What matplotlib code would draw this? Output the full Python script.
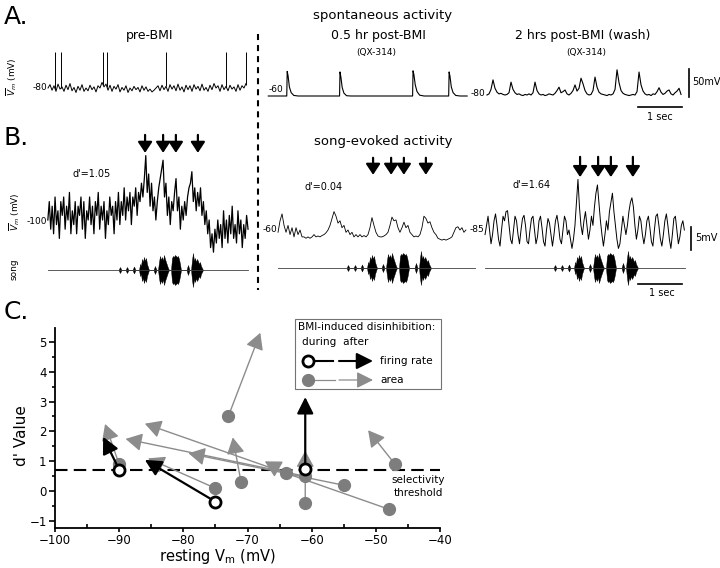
import numpy as np
import matplotlib
matplotlib.use("Agg")
import matplotlib.pyplot as plt
from matplotlib.patches import Rectangle

plt.rcParams['font.family'] = ['DejaVu Sans']

# ---------------- DATA ----------------
# Panel A: spontaneous activity (mV)
a1_vm = [-80, -74, -84, -76, -86, -73, -82, -78, -86, -75,
         -83, -72, -85, -79, -88, -77, -84, -74, -86, -80,
         -85, -75, -83, -78, -87, -76, -80, -70, -78, -73,
         -84, -75, -86, -77, -82, -74, -87, -79, -84, -76,
         -88, -80, -85, -77, -83, -79, -87, -76, -84, -78,
         -86, -82, -87, -84, -80, -76, -85, -75, -83, -77,
         -86, -74, -82, -76, -85, -73, -84, -78, -87, -75,
         -83, -76, -86, -74, -82, -77, -85, -73, -84, -79,
         -86, -75, -83, -72, -80, -76, -86, -74, -83, -77,
         -85, -75, -82, -78, -86, -74, -84, -76, -80, -72]
a1_duration = 4.5
a1_spike_t = [0.16, 0.30, 1.25, 1.34, 2.68, 4.05, 4.49]
a1_spike_peak = [-16, -16, -16, -16, -16, -16, -16]

a2_t = [-0.38, 0.00, 0.04, 0.05, 0.07, 0.10, 0.14, 0.20, 0.30,
        1.22, 1.24, 1.25, 1.27, 1.30, 1.34, 1.40, 1.50,
        2.88, 2.90, 2.91, 2.93, 2.96, 3.00, 3.06, 3.16,
        3.70, 3.72, 3.73, 3.75, 3.78, 3.82, 3.88, 3.98, 4.14]
a2_vm = [-60, -60, -60, -16, -24, -44, -54, -59, -60,
         -60, -60, -17, -26, -45, -55, -59.5, -60,
         -60, -60, -15, -22, -40, -52, -58.5, -60,
         -60, -60, -17, -25, -44, -54, -59, -60, -60]

a3_vm = [-80, -78, -70, -53, -68, -75, -78, -77, -79, -80,
         -79, -76, -57, -70, -76, -79, -78, -80, -81, -79,
         -80, -78, -80, -76, -57, -72, -78, -80, -79, -81,
         -80, -78, -79, -80, -77, -72, -66, -76, -74, -71,
         -78, -80, -77, -72, -62, -73, -68, -50, -60, -72,
         -78, -80, -79, -72, -48, -66, -75, -78, -79, -80,
         -81, -79, -80, -78, -70, -35, -58, -72, -77, -79,
         -80, -81, -80, -79, -80, -74, -39, -62, -73, -78,
         -80, -79, -81, -78, -79, -74, -67, -75, -79, -77,
         -73, -71, -78, -80, -76, -73, -68, -79]
a3_duration = 4.41

# Panel B: song-evoked activity (mV), time relative to song onset (s)
b1_vm = [-100, -96, -102, -97, -103, -95, -101, -98, -104, -96,
         -99, -95, -102, -97, -100, -94, -103, -98, -101, -96,
         -103, -97, -99, -95, -102, -96, -104, -98, -100, -95,
         -101, -97, -103, -96, -99, -94, -102, -97, -100, -96,
         -104, -98, -101, -95, -99, -97, -103, -96, -100, -94,
         -101, -96, -99, -93, -100, -95, -98, -94, -101, -95,
         -97, -93, -99, -94, -96, -92, -95, -91, -86, -94,
         -90, -97, -92, -98, -95, -100, -96, -93, -91, -89,
         -87, -95, -92, -99, -95, -101, -96, -98, -94, -91,
         -98, -95, -102, -97, -100, -96, -99, -95, -93, -92,
         -89.5, -96, -93, -98, -94, -97, -93, -99, -96, -101,
         -98, -103, -100, -106, -103, -107, -102, -105, -100, -104,
         -101, -106, -98, -104, -100, -105, -99, -103, -97, -104,
         -101, -105, -98, -103, -100, -106, -101, -104, -99, -102]
b1_span = (-1.64, 2.91)

b2_vm = [-60.5, -58, -56.5, -59, -60.5, -59, -61, -59.5, -61.5, -59.5,
         -61, -60, -61.5, -61.5, -61.8, -61.5, -61.8, -61.5, -61, -61.5,
         -61.3, -61.5, -61.2, -61, -60.6, -60, -59, -57.5, -56, -57,
         -58.5, -58, -59.5, -59, -60.5, -60, -61, -60.5, -61.5, -61,
         -61.5, -61, -61.5, -61.2, -61.5, -61, -59.5, -57.3, -59, -60.5,
         -61.3, -61.5, -61.5, -61.3, -61, -60.5, -59, -57.2, -58, -57.8,
         -59.5, -60.5, -59.5, -58.3, -59.5, -59, -60.5, -61, -61.5, -61.3,
         -61.5, -61, -59.5, -57, -57.5, -58.5, -58.2, -59.5, -60.5, -61,
         -61.8, -62, -62.2, -62, -62.2, -62, -61.8, -61.5, -60.5, -59.5,
         -59.3, -60, -59.5, -60.5, -60]
b2_span = (-1.59, 2.68)

b3_vm = [-86, -84, -82, -85, -88, -86, -83, -81.5, -84, -87,
         -88.5, -85, -82, -83, -81, -80.8, -84, -87, -88, -85,
         -82, -83, -86, -88, -85, -82.5, -81.8, -84, -87.5, -88,
         -85, -82.5, -82, -85, -88, -86.5, -83, -82, -84.5, -87.5,
         -88.5, -85, -82.5, -83.5, -86, -88.5, -86, -83, -81.8, -84,
         -87, -88, -85, -82, -83, -86, -85, -87, -89, -87,
         -84, -79, -74, -80, -84, -86, -83, -81, -84, -87,
         -85, -82, -84, -80, -77, -75.2, -79, -83, -86, -88.5,
         -86, -83, -85, -81, -79, -77, -81, -84, -87, -89,
         -88, -85, -82, -84, -86, -84, -81, -79, -78, -80,
         -84, -87, -85, -82, -83, -86, -88, -86, -83, -82,
         -84.5, -87.5, -88.5, -85, -82, -81.5, -84, -87, -88.5, -86,
         -83, -81.5, -84, -87, -89, -86, -82.5, -82, -85, -88,
         -86.5, -84, -83, -85]
b3_span = (-1.59, 2.94)

# song amplitude envelope (ms from song onset, arbitrary amplitude)
song_ms = [-34, 0, 34, 125, 159, 193, 284, 318, 352,
           432, 455, 477, 500, 523, 545, 568, 591, 614, 636, 659,
           761, 795, 830,
           864, 886, 909, 932, 955, 977, 1000, 1023, 1045, 1068, 1091, 1114,
           1159, 1182, 1205, 1227, 1250, 1273, 1295, 1318, 1341, 1364, 1386,
           1511, 1545, 1580,
           1614, 1636, 1659, 1682, 1705, 1727, 1750, 1773, 1795, 1818, 1841, 1864, 1886]
song_amp = [0, 3, 0, 0, 3, 0, 0, 3.5, 0,
            0, 6, 4, 11, 8, 13, 9, 12, 6, 3, 0,
            0, 4, 0,
            0, 8, 14, 10, 13, 9, 15, 11, 8, 5, 2, 0,
            0, 12, 14, 13, 15, 14, 13, 14, 11, 6, 0,
            0, 5, 0,
            0, 10, 17, 9, 12, 8, 11, 9, 6, 8, 4, 2, 0]
song_spans = [(-1.64, 2.91), (-1.59, 2.89), (-1.59, 2.95)]
arrow_times = [0.57, 0.98, 1.27, 1.77]
d_prime_labels = ["d'=1.05", "d'=0.04", "d'=1.64"]

# Panel C
area_vm_during = [-90, -75, -73, -71, -64, -61, -61, -55, -48, -47]
area_d_during = [0.9, 0.1, 2.5, 0.3, 0.6, 0.5, -0.4, 0.2, -0.6, 0.9]
area_vm_after = [-92.2, -85.5, -68, -72.3, -67.3, -89, -61, -79.2, -86, -51.2]
area_d_after = [2.25, 1.1, 5.3, 1.8, 1.0, 1.75, 1.35, 1.27, 2.26, 2.04]
rate_vm_during = [-90, -75, -61]
rate_d_during = [0.72, -0.35, 0.75]
rate_vm_after = [-92.5, -86, -61]
rate_d_after = [1.82, 1.05, 3.15]
threshold = 0.7

# ---------------- FIGURE ----------------
W, H = 720, 568
fig = plt.figure(figsize=(W / 100, H / 100), dpi=100)
fig.patch.set_facecolor('white')

pix = fig.add_axes([0, 0, 1, 1])
pix.set_xlim(0, W)
pix.set_ylim(H, 0)
pix.axis('off')


def ptext(x, y, s, size=8, ha='center', va='center', **kw):
    pix.text(x, y, s, fontsize=size, ha=ha, va=va, **kw)


def px_axes(box, xmap, ymap):
    l, t, r, b = box
    ax = fig.add_axes([l / W, 1 - b / H, (r - l) / W, (b - t) / H])
    xp, xv, xs = xmap
    yp, yv, ys = ymap
    ax.set_xlim(xv + (l - xp) / xs, xv + (r - xp) / xs)
    ax.set_ylim(yv - (b - yp) / ys, yv + (yp - t) / ys)
    ax.axis('off')
    return ax


PXS = 44.0      # pixels per second
A_PXMV = 0.56   # pixels per mV, panel A
B_PXMV = 4.6    # pixels per mV, panel B

# panel letters & titles
ptext(4, 17, 'A.', size=18, ha='left')
ptext(4, 138, 'B.', size=18, ha='left')
ptext(4, 312, 'C.', size=18, ha='left')
ptext(383, 15, 'spontaneous activity', size=9.5)
ptext(383, 141, 'song-evoked activity', size=9.5)
ptext(150, 35, 'pre-BMI', size=9)
ptext(378, 35, '0.5 hr post-BMI', size=9)
ptext(376, 53, '(QX-314)', size=6.5)
ptext(583, 35, '2 hrs post-BMI (wash)', size=9)
ptext(586, 53, '(QX-314)', size=6.5)

# divider
pix.plot([258, 258], [34, 290], color='k', lw=1.5, ls=(0, (2.9, 2.4)))

# ---- A1
ax = px_axes((30, 40, 255, 115), (48, 0, PXS), (88, -80, A_PXMV))
t = np.linspace(0, a1_duration, len(a1_vm))
ax.plot(t, a1_vm, color='k', lw=0.7, clip_on=False)
base = np.interp(a1_spike_t, t, a1_vm)
ax.vlines(a1_spike_t, base, a1_spike_peak, color='k', lw=0.7, clip_on=False)
ptext(47, 87, '-80', size=6.5, ha='right')
ptext(12, 77, r'$\overline{V}_{m}$ (mV)', size=6.5, rotation=90)

# ---- A2
ax = px_axes((262, 40, 475, 115), (285, 0, PXS), (96, -60, A_PXMV))
ax.plot(a2_t, a2_vm, color='k', lw=0.8, clip_on=False)
ptext(276, 89, '-60', size=6.5)

# ---- A3
ax = px_axes((480, 40, 705, 125), (487, 0, PXS), (95, -80, A_PXMV))
t = np.linspace(0, a3_duration, len(a3_vm))
ax.plot(t, a3_vm, color='k', lw=0.8, clip_on=False)
ax.plot([4.59, 4.59], [-83, -33], color='k', lw=1.2, clip_on=False)
ax.plot([3.43, 4.43], [-101.4, -101.4], color='k', lw=1.2, clip_on=False)
ptext(478, 93, '-80', size=6.5)
ptext(692, 82, '50mV', size=7, ha='left')
ptext(660, 117, '1 sec', size=7)

# ---- B traces
b_traces = [b1_vm, b2_vm, b3_vm]
b_spans = [b1_span, b2_span, b3_span]
b_onset_px = [120, 348, 555]
b_ref = [(220, -100), (230, -60), (230, -85)]
b_box = [(30, 125, 255, 262), (262, 150, 475, 262), (480, 150, 705, 262)]
b_arrow_y = [(-81.5, -85.4), (-44.3, -48.0), (-69.1, -73.5)]
b_lw = [0.9, 0.6, 0.7]
b_lab = [(47, 222, '-100'), (277, 230, '-60'), (484, 230, '-85')]
b_dlab = [(92, 174), (324, 187), (532, 185)]
song_y = [270, 268, 268]
b_axes = []
for i in range(3):
    ax = px_axes(b_box[i], (b_onset_px[i], 0, PXS), (b_ref[i][0], b_ref[i][1], B_PXMV))
    tt = np.linspace(b_spans[i][0], b_spans[i][1], len(b_traces[i]))
    ax.plot(tt, b_traces[i], color='k', lw=b_lw[i], clip_on=False)
    y0, y1 = b_arrow_y[i]
    for at in arrow_times:
        ax.annotate('', xy=(at, y1), xytext=(at, y0),
                    arrowprops=dict(arrowstyle='-|>,head_length=0.65,head_width=0.43',
                                    mutation_scale=10, lw=1.6, color='k',
                                    shrinkA=0, shrinkB=0), annotation_clip=False)
    b_axes.append(ax)
    x, y, s = b_lab[i]
    ptext(x, y, s, size=6.5, ha='right')
    ptext(b_dlab[i][0], b_dlab[i][1], d_prime_labels[i], size=7)

    # song
    sax = px_axes((b_box[i][0], 248, b_box[i][2], 300), (b_onset_px[i], 0, PXS), (song_y[i], 0, 1.0))
    st = np.array(song_ms) / 1000.0
    sa = np.array(song_amp)
    sax.plot(song_spans[i], [0, 0], color='0.25', lw=0.6, clip_on=False)
    sax.fill_between(st, -sa, sa, color='k', lw=0.3, clip_on=False)
    if i == 2:
        sax.plot([1.89, 2.89], [-16, -16], color='k', lw=1.2, clip_on=False)

b_axes[2].plot([3.09, 3.09], [-84.3, -89.3], color='k', lw=1.2, clip_on=False)
ptext(695, 238, '5mV', size=7, ha='left')
ptext(662, 293, '1 sec', size=7)
ptext(15, 212, r'$\overline{V}_{m}$ (mV)', size=6.5, rotation=90)
ptext(14, 269, 'song', size=6.5, rotation=90)

# ---- Panel C
C_TOP, C_BOT = 328, 528
axC = fig.add_axes([55 / W, 1 - C_BOT / H, (440 - 55) / W, (C_BOT - C_TOP) / H])
axC.set_facecolor('none')
axC.set_xlim(-100, -40)
axC.set_ylim(-1.23, 5.46)
for s in ['top', 'right']:
    axC.spines[s].set_visible(False)
for s in ['left', 'bottom']:
    axC.spines[s].set_linewidth(1.3)
axC.set_xticks(np.arange(-100, -39, 10))
axC.set_xticks(np.arange(-95, -40, 10), minor=True)
axC.set_yticks(np.arange(-1, 6, 1))
axC.set_yticks(np.arange(-0.5, 5.5, 1), minor=True)
axC.tick_params(axis='x', which='major', direction='out', length=3, width=1.2,
                labelsize=8.5, pad=1)
axC.tick_params(axis='x', which='minor', direction='in', length=3, width=1.2)
axC.tick_params(axis='y', which='major', direction='out', length=4, width=1.2,
                labelsize=8.5, pad=2)
axC.tick_params(axis='y', which='minor', direction='out', length=2.5, width=1.2)
axC.set_xlabel(r'resting V$_{\rm m}$ (mV)', fontsize=10.5)
axC.xaxis.set_label_coords(0.423, -0.097)
axC.set_ylabel("d' Value", fontsize=11)
axC.yaxis.set_label_coords(-0.068, 0.46)

axC.plot([-100, -40], [threshold, threshold], color='k', lw=1.5, ls=(0, (6, 3)), zorder=1)
axC.text(-43.4, 0.16, 'selectivity\nthreshold', fontsize=7.5, ha='center', va='center',
         linespacing=1.45)

GRAY_C = '#7d7d7d'
GRAY_A = '#8c8c8c'
for x0, y0, x1, y1 in zip(area_vm_during, area_d_during, area_vm_after, area_d_after):
    axC.annotate('', xy=(x1, y1), xytext=(x0, y0),
                 arrowprops=dict(arrowstyle='-|>,head_length=1.0,head_width=0.55',
                                 mutation_scale=10, lw=1.0, color=GRAY_A,
                                 shrinkA=0, shrinkB=0), zorder=2)
axC.plot(area_vm_during, area_d_during, 'o', ms=8.5, color=GRAY_C, mec=GRAY_C, zorder=3)
for x0, y0, x1, y1 in zip(rate_vm_during, rate_d_during, rate_vm_after, rate_d_after):
    axC.annotate('', xy=(x1, y1), xytext=(x0, y0),
                 arrowprops=dict(arrowstyle='-|>,head_length=1.0,head_width=0.5',
                                 mutation_scale=10, lw=1.6, color='k',
                                 shrinkA=0, shrinkB=0), zorder=4)
axC.plot(rate_vm_during, rate_d_during, 'o', ms=8, mfc='white', mec='k', mew=2, zorder=5)

# ---- legend (pixel coordinates)
pix2 = fig.add_axes([0, 0, 1, 1], zorder=10)
pix2.set_xlim(0, W)
pix2.set_ylim(H, 0)
pix2.axis('off')
pix2.add_patch(Rectangle((295, 319), 146, 70, fill=True, fc='white', ec='0.45', lw=0.8))
pix2.text(298, 327, 'BMI-induced disinhibition:', fontsize=7.6, ha='left', va='center')
pix2.text(302, 342, 'during  after', fontsize=7.6, ha='left', va='center')
pix2.plot([312, 333], [361, 361], color='k', lw=1.5)
pix2.annotate('', xy=(373, 361), xytext=(339, 361),
              arrowprops=dict(arrowstyle='-|>,head_length=1.0,head_width=0.5',
                              mutation_scale=10, lw=1.5, color='k', shrinkA=0, shrinkB=0))
pix2.plot([308], [361], 'o', ms=8, mfc='white', mec='k', mew=2)
pix2.text(380, 361, 'firing rate', fontsize=7.6, ha='left', va='center')
pix2.plot([312, 335], [380, 380], color=GRAY_A, lw=0.9)
pix2.annotate('', xy=(373, 380), xytext=(339, 380),
              arrowprops=dict(arrowstyle='-|>,head_length=1.0,head_width=0.5',
                              mutation_scale=10, lw=0.9, color=GRAY_A, shrinkA=0, shrinkB=0))
pix2.plot([308], [380], 'o', ms=8.5, color=GRAY_C)
pix2.text(380, 380, 'area', fontsize=7.6, ha='left', va='center')

fig.savefig('out.png', dpi=100, facecolor='white')
